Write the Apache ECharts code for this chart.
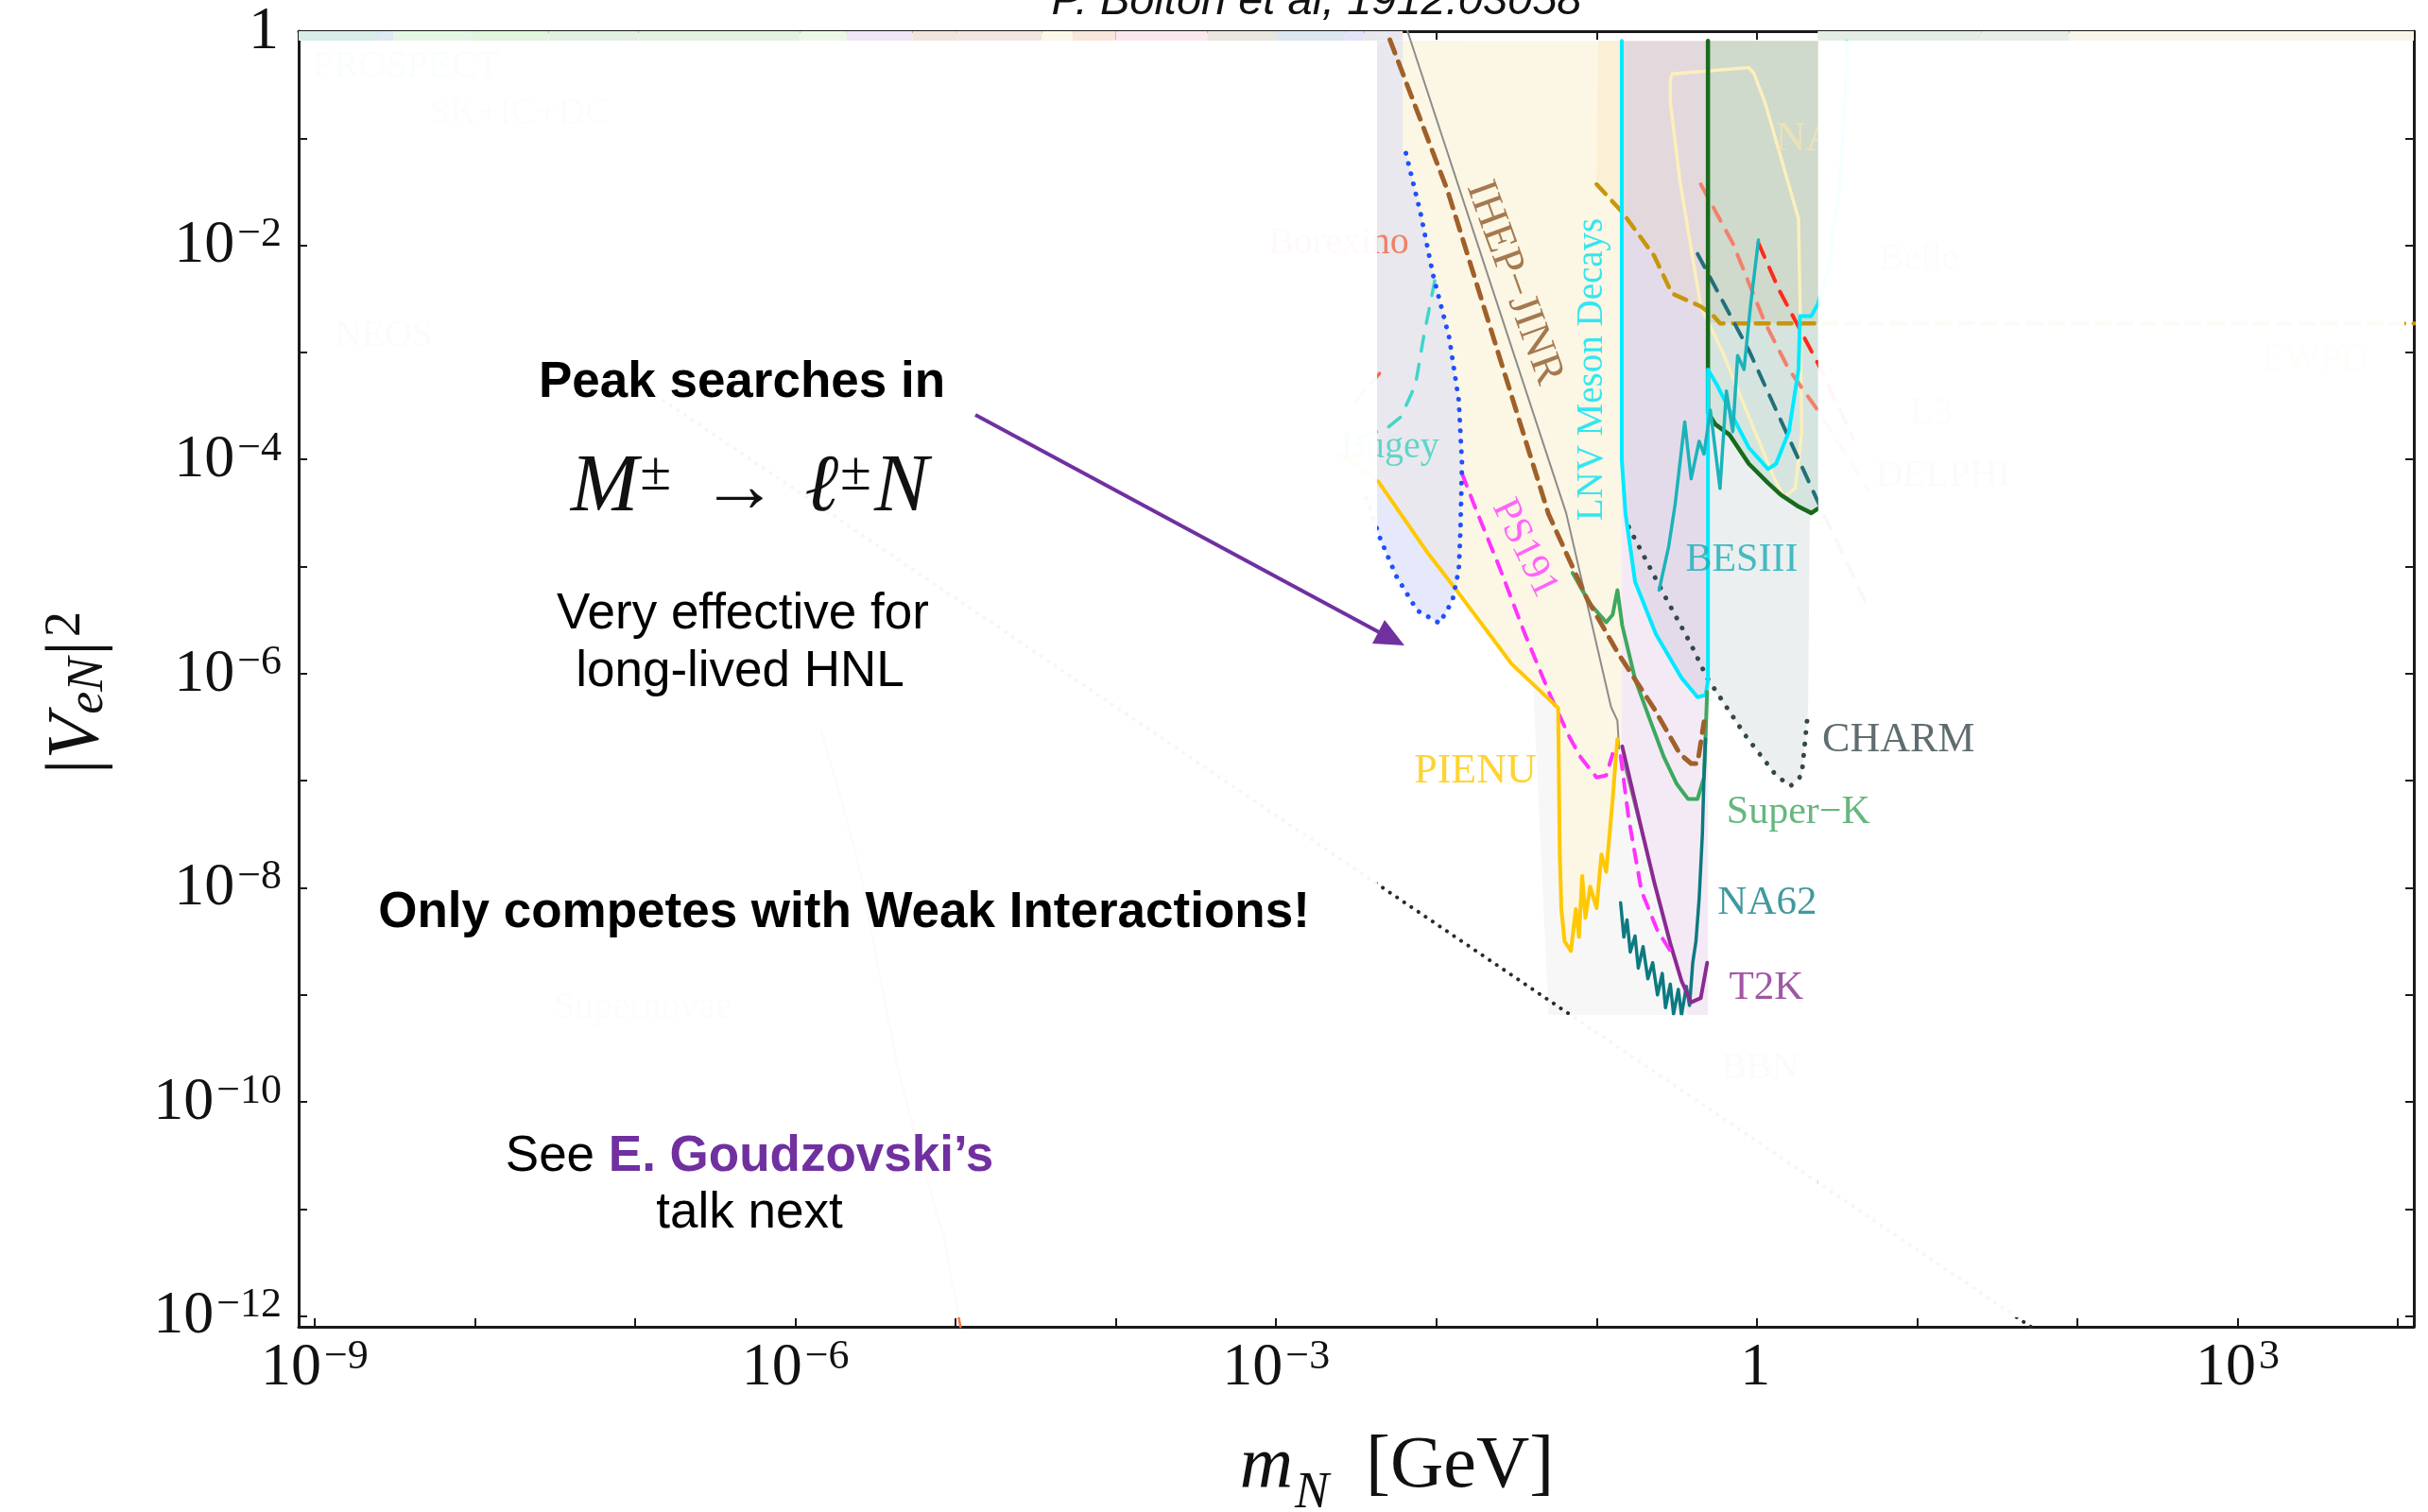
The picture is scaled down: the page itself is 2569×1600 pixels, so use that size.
<!DOCTYPE html>
<html><head><meta charset="utf-8">
<script src="https://cdn.jsdelivr.net/npm/echarts@6/dist/echarts.min.js"></script>
<style>html,body{margin:0;padding:0;background:#fff}#c{width:2569px;height:1600px}</style>
</head><body><div id="c"></div>
<script>
// All points: [log10(m_N / GeV), log10(|V_eN|^2)] on log-decade value axes
const xTickExps = [-9,-8,-7,-6,-5,-4,-3,-2,-1,0,1,2,3,4];
const xLabelExps = [-9,-6,-3,0,3];
const yTickExps = [-12,-11,-10,-9,-8,-7,-6,-5,-4,-3,-2,-1,0];
const yLabelExps = [-12,-10,-8,-6,-4,-2,0];

// curves
const ihepDash = [[-2.29,-0.08],[-1.93,-1.49],[-1.30,-4.51],[-1.06,-5.30],[-0.87,-5.80],[-0.64,-6.33],[-0.48,-6.75],[-0.41,-6.84],[-0.37,-6.84],[-0.33,-6.45]];
const ihepLine = [[-2.18,0],[-1.19,-4.50],[-0.91,-6.31],[-0.87,-6.44],[-0.86,-6.70]];
const ihepLine2 = [[-0.84,-6.79],[-0.53,-8.59]];
const blueDotted = [[-2.19,-1.14],[-2.10,-1.69],[-2.02,-2.28],[-1.92,-2.86],[-1.86,-3.45],[-1.84,-4.04],[-1.85,-4.68],[-1.86,-5.03],[-1.90,-5.32],[-1.98,-5.53],[-2.12,-5.41],[-2.25,-5.09],[-2.35,-4.74],[-2.45,-4.30]];
const bugey = [[-2.01,-2.33],[-2.08,-2.86],[-2.13,-3.30],[-2.22,-3.60],[-2.31,-3.71],[-2.45,-3.78]];
const borexino = [[-2.50,-3.45],[-2.34,-3.17]];
const pienu = [[-2.60,-3.95],[-2.36,-4.21],[-2.06,-4.86],[-1.88,-5.21],[-1.53,-5.91],[-1.24,-6.32],[-1.23,-7.67],[-1.22,-8.20],[-1.20,-8.50],[-1.16,-8.59],[-1.13,-8.20],[-1.11,-8.46],[-1.09,-7.89],[-1.07,-8.28],[-1.04,-7.99],[-1.00,-8.19],[-0.97,-7.69],[-0.94,-7.85],[-0.90,-7.18],[-0.88,-6.79],[-0.87,-6.61]];
const ps191 = [[-1.84,-4.13],[-1.76,-4.44],[-1.60,-5.03],[-1.45,-5.62],[-1.29,-6.20],[-1.17,-6.59],[-1.10,-6.78],[-1.00,-6.97],[-0.94,-6.95],[-0.90,-6.75]];
const ps191b = [[-0.85,-6.77],[-0.80,-7.35],[-0.72,-8.03],[-0.62,-8.40],[-0.51,-8.66]];
const t2k = [[-0.84,-6.68],[-0.72,-7.45],[-0.64,-7.95],[-0.54,-8.52],[-0.47,-8.87],[-0.41,-9.07],[-0.35,-9.03],[-0.31,-8.70]];
const na62 = [[-0.85,-8.14],[-0.83,-8.46],[-0.81,-8.30],[-0.79,-8.60],[-0.76,-8.45],[-0.74,-8.75],[-0.71,-8.55],[-0.68,-8.85],[-0.65,-8.70],[-0.62,-9.00],[-0.59,-8.80],[-0.57,-9.12],[-0.54,-8.90],[-0.52,-9.18],[-0.49,-8.95],[-0.47,-9.19],[-0.44,-8.92],[-0.42,-9.10],[-0.40,-8.70],[-0.38,-8.50],[-0.36,-8.10],[-0.34,-7.50],[-0.33,-6.97],[-0.32,-6.61]];
const superK = [[-1.15,-5.06],[-1.04,-5.35],[-0.94,-5.52],[-0.90,-5.45],[-0.87,-5.22],[-0.84,-5.55],[-0.76,-6.05],[-0.67,-6.42],[-0.58,-6.78],[-0.50,-7.03],[-0.43,-7.17],[-0.37,-7.17],[-0.33,-6.97],[-0.31,-6.17]];
const lnv = [[-0.843,-0.09],[-0.843,-4.00],[-0.82,-4.50],[-0.76,-5.14],[-0.63,-5.63],[-0.47,-6.04],[-0.37,-6.22],[-0.32,-6.20],[-0.305,-6.07],[-0.305,-3.16],[-0.25,-3.30],[-0.15,-3.60],[-0.05,-3.89],[0.07,-4.09],[0.12,-4.04],[0.20,-3.74],[0.26,-3.16],[0.27,-2.66],[0.34,-2.66],[0.38,-2.55],[0.45,-2.20],[0.52,-1.40],[0.55,-0.60],[0.56,-0.10]];
const darkGreen = [[-0.305,-0.09],[-0.305,-3.56],[-0.26,-3.67],[-0.17,-3.77],[-0.05,-4.04],[0.07,-4.22],[0.15,-4.33],[0.26,-4.44],[0.34,-4.50],[0.38,-4.46]];
const besiii = [[-0.61,-5.22],[-0.55,-4.81],[-0.51,-4.42],[-0.45,-3.65],[-0.41,-4.18],[-0.36,-3.83],[-0.33,-3.95],[-0.29,-3.54],[-0.23,-4.27],[-0.19,-3.36],[-0.15,-3.74],[-0.12,-3.03],[-0.08,-3.16],[-0.04,-2.57],[0.01,-1.95]];
const charm = [[-0.80,-4.63],[-0.58,-5.26],[-0.41,-5.73],[-0.31,-6.04],[-0.07,-6.58],[0.12,-6.95],[0.21,-7.05],[0.28,-6.95],[0.32,-6.34]];
const na3 = [[-0.53,-0.40],[-0.05,-0.34],[-0.02,-0.39],[0.05,-0.66],[0.26,-1.75],[0.27,-2.57],[0.28,-3.74],[0.24,-4.27],[0.17,-4.35],[0.11,-4.18],[-0.05,-3.60],[-0.21,-3.01],[-0.35,-2.57],[-0.48,-1.40],[-0.54,-0.66],[-0.54,-0.46],[-0.53,-0.40]];
const tealDash = [[-0.37,-2.08],[-0.05,-2.98],[0.38,-4.39],[0.70,-5.40]];
const salmonDash = [[-0.35,-1.43],[-0.15,-1.98],[0.05,-2.72],[0.20,-3.16],[0.38,-3.54],[0.70,-4.30]];
const redDash = [[0.01,-1.98],[0.14,-2.42],[0.38,-3.10],[0.60,-3.80]];
const goldDash = [[-1.00,-1.43],[-0.84,-1.69],[-0.64,-2.10],[-0.53,-2.45],[-0.35,-2.57],[-0.27,-2.66],[-0.23,-2.73],[4.10,-2.73]];
const seesaw = [[-7.00,-3.27],[1.71,-12.10]];
const katrin = [[-5.84,-6.53],[-5.70,-7.25],[-5.60,-7.82],[-5.51,-8.54],[-5.36,-9.69],[-5.21,-10.56],[-5.07,-11.28],[-4.97,-12.10]];

// shaded regions
const regFaint = [[-1.40,-6.00],[-0.87,-6.00],[-0.84,-6.79],[-0.40,-9.19],[-1.30,-9.19]];
const regLeftGrey = [[-2.37,-0.09],[-1.84,-0.09],[-1.84,-5.00],[-1.88,-5.21],[-2.06,-4.86],[-2.37,-4.21]];
const regCream = [[-2.21,-0.09],[-2.21,-1.13],[-2.19,-1.14],[-2.10,-1.69],[-2.02,-2.28],[-1.92,-2.86],[-1.86,-3.45],[-1.84,-4.04],[-1.85,-4.68],[-1.86,-5.03],[-1.875,-5.16],[-1.53,-5.91],[-1.24,-6.32],[-1.23,-7.67],[-1.22,-8.20],[-1.20,-8.50],[-1.16,-8.59],[-1.13,-8.20],[-1.11,-8.46],[-1.09,-7.89],[-1.07,-8.28],[-1.04,-7.99],[-1.00,-8.19],[-0.97,-7.69],[-0.94,-7.85],[-0.90,-7.18],[-0.88,-6.79],[-0.87,-6.61],[-0.843,-6.70],[-0.843,-0.09]];
const regLightBlue = [[-2.37,-4.21],[-2.06,-4.86],[-1.875,-5.16],[-1.90,-5.32],[-1.98,-5.53],[-2.12,-5.41],[-2.25,-5.09],[-2.35,-4.74],[-2.37,-4.66]];
const regCreamStrip = [[-0.99,-0.09],[-0.843,-0.09],[-0.843,-1.69],[-1.00,-1.43]];
const regMauve = [[-0.843,-0.09],[-0.305,-0.09],[-0.305,-2.62],[-0.35,-2.57],[-0.53,-2.45],[-0.64,-2.10],[-0.843,-1.69]];
const regLavender = [[-0.843,-1.69],[-0.64,-2.10],[-0.53,-2.45],[-0.35,-2.57],[-0.305,-2.62],[-0.305,-6.07],[-0.32,-6.20],[-0.37,-6.22],[-0.47,-6.04],[-0.63,-5.63],[-0.76,-5.14],[-0.82,-4.50],[-0.843,-4.00]];
const regPink = [[-0.843,-4.00],[-0.82,-4.50],[-0.76,-5.14],[-0.63,-5.63],[-0.47,-6.04],[-0.37,-6.22],[-0.32,-6.20],[-0.305,-6.07],[-0.305,-9.19],[-0.43,-9.19],[-0.53,-8.59],[-0.843,-6.79]];
const regGreenGrey = [[-0.305,-0.09],[0.383,-0.09],[0.383,-2.73],[-0.305,-2.73]];
const regTealLight = [[-0.305,-2.73],[0.383,-2.73],[0.383,-4.46],[0.34,-4.50],[0.26,-4.44],[0.15,-4.33],[0.07,-4.22],[-0.05,-4.04],[-0.17,-3.77],[-0.26,-3.67],[-0.305,-3.56]];
const regCharm = [[-0.305,-3.56],[-0.26,-3.67],[-0.17,-3.77],[-0.05,-4.04],[0.07,-4.22],[0.15,-4.33],[0.26,-4.44],[0.34,-4.50],[0.33,-4.60],[0.32,-6.34],[0.28,-6.95],[0.21,-7.05],[0.12,-6.95],[-0.07,-6.58],[-0.305,-6.07]];

// colour strip of the full plot visible along the top frame (edges in log10 GeV)
const bandEdges = [-9.1,-8.61,-8.51,-8.02,-7.54,-6.98,-5.97,-5.68,-5.27,-4.99,-4.46,-4.27,-4.00,-3.43,-2.99,-2.57,-2.45,-2.21];
const bandColors = ['#d8ede8','#dde9f4','#e4f7e6','#e1f4dd','#e3f0e1','#e2f2df','#ebf8e8','#f1e6f5','#f0e4dc','#f3e6e1','#fbf8e8','#f8e6da','#fbe8ee','#e9e6e0','#dce6f1','#e3e4fa','#e8e7ee'];
const bandEdgesR = [0.38,1.40,1.95,4.1];
const bandColorsR = ['#e4ece4','#e8eee6','#f8f5ea'];

// labels
const innerLabelText = ['IHEP\u2212JINR','LNV Meson Decays','PS191','BESIII','PIENU','Bugey','Borexino','NA3'];
const innerLabelPos = [[-1.515,-2.35],[-1.026,-3.16],[-1.45,-4.83],[-0.094,-4.94],[-1.757,-6.91],[-2.29,-3.89],[-2.61,-1.98],[0.37,-1.01]];
const outerLabelText = ['CHARM','Super\u2212K','NA62','T2K'];
const outerLabelPos = [[0.884,-6.62],[0.259,-7.30],[0.065,-8.14],[0.059,-8.94]];
const bgLabelText = ['PROSPECT','SK+IC+DC','NEOS','Supernovae','BBN','Belle','EWPD','L3','DELPHI'];
const bgLabelPos = [[-8.43,-0.33],[-7.72,-0.77],[-8.57,-2.85],[-6.95,-9.12],[0.02,-9.69],[1.01,-2.13],[3.48,-3.07],[1.09,-3.57],[1.16,-4.15]];

const windowX = [-2.37, 0.383], windowY = [-9.19, -0.088];

const SERIF = '"Liberation Serif", "DejaVu Serif", serif';
const SANS = '"Liberation Sans", Arial, sans-serif';

function powLabel(v){
  if (v === 0) return '{b|1}{s|\u200b}';
  return '{b|10}{s|' + (v < 0 ? '\u2212' : '') + Math.abs(v) + '}';
}
const tickRich = {
  b: {fontFamily: SERIF, fontSize: 64, color: '#111', lineHeight: 66, verticalAlign: 'bottom'},
  s: {fontFamily: SERIF, fontSize: 44, color: '#111', lineHeight: 46, verticalAlign: 'top', padding: [0,0,32,3]}
};

function lineSeries(data, color, width, dash, z){
  return {type: 'line', data: data, symbol: 'none', showSymbol: false, silent: true, z: z || 3,
    lineStyle: {color: color, width: width, type: dash || 'solid', cap: 'round', join: 'round'},
    emphasis: {disabled: true}, animation: false};
}
function polySeries(pts, color, z){
  return {type: 'custom', coordinateSystem: 'cartesian2d', silent: true, z: z || 1, animation: false,
    data: [pts[0]],
    renderItem: function(params, api){
      return {type: 'polygon', shape: {points: pts.map(function(p){ return api.coord(p); })}, style: {fill: color}};
    }};
}
function bandSeries(edges, colors){
  return {type: 'custom', coordinateSystem: 'cartesian2d', silent: true, z: 1, animation: false,
    data: colors.map(function(c, i){ return [(edges[i] + edges[i+1]) / 2, -0.05]; }),
    renderItem: function(params, api){
      const i = params.dataIndex;
      const a = api.coord([edges[i], 0]), b = api.coord([edges[i+1], windowY[1]]);
      return {type: 'rect', shape: {x: a[0], y: a[1], width: b[0]-a[0], height: b[1]-a[1]}, style: {fill: colors[i]}};
    }};
}
// white veil over the whole plot except the highlighted window
const maskFill = 'rgba(255,255,255,0.96)';
const maskSeries = {type: 'custom', coordinateSystem: 'cartesian2d', silent: true, z: 50, animation: false,
  data: [[windowX[0], windowY[0]]],
  renderItem: function(params, api){
    const tl = api.coord([-9.1, 0]), br = api.coord([4.1, -12.1]);
    const wtl = api.coord([windowX[0], windowY[1]]), wbr = api.coord([windowX[1], windowY[0]]);
    const L = tl[0] + 10, T = tl[1] + 10, R = br[0] - 10, B = br[1] - 10;
    return {type: 'group', children: [
      {type: 'rect', shape: {x: L, y: T, width: wtl[0] - L, height: B - T}, style: {fill: maskFill}},
      {type: 'rect', shape: {x: wbr[0], y: T, width: R - wbr[0], height: B - T}, style: {fill: maskFill}},
      {type: 'rect', shape: {x: wtl[0], y: wbr[1], width: wbr[0] - wtl[0], height: B - wbr[1]}, style: {fill: maskFill}}
    ]};
  }};
function labelSeries(texts, pos, styles, z){
  return {type: 'scatter', silent: true, z: z, symbolSize: 1, itemStyle: {color: 'rgba(0,0,0,0)'}, animation: false,
    data: texts.map(function(t, i){
      const st = styles[i];
      return {value: pos[i], label: {show: true, position: 'inside', formatter: t, color: st.c, fontSize: st.s,
        fontFamily: SERIF, rotate: st.r || 0}};
    })};
}

const innerStyles = [{c:'#8f5a2a',s:46,r:-70},{c:'#00e2f2',s:39,r:90},{c:'#ff40ff',s:42,r:-64},{c:'#19acb5',s:42},{c:'#ffc800',s:44},{c:'#3fd0c0',s:40},{c:'#f2673f',s:40},{c:'#f1e4b0',s:44}];
const outerStyles = [{c:'#37494d',s:44},{c:'#3ea55e',s:42},{c:'#117f86',s:43},{c:'#8a2a8f',s:43}];
const bgStyles = [{c:'#3fb6ae',s:40},{c:'#88bb88',s:40},{c:'#888',s:40},{c:'#8899cc',s:40},{c:'#888',s:40},{c:'#66aa66',s:40},{c:'#bbaa66',s:40},{c:'#e07070',s:40},{c:'#7080c0',s:40}];

const axisLineStyle = {show: true, onZero: false, lineStyle: {color: '#1a1a1a', width: 3}};
function tickOpt(vals){ return {show: true, inside: true, length: 9, customValues: vals, lineStyle: {color: '#1a1a1a', width: 2}}; }

const option = {
  animation: false,
  backgroundColor: '#ffffff',
  grid: {left: 316, right: 15, top: 28, bottom: 196, containLabel: false},
  xAxis: [
    {type: 'value', position: 'bottom', min: -9.1, max: 4.1, splitLine: {show: false}, axisLine: axisLineStyle,
      axisTick: tickOpt(xTickExps), axisLabel: {show: true, customValues: xLabelExps, formatter: powLabel, rich: tickRich, margin: 10}},
    {type: 'value', position: 'top', min: -9.1, max: 4.1, splitLine: {show: false}, axisLine: axisLineStyle,
      axisTick: tickOpt(xTickExps), axisLabel: {show: false}}
  ],
  yAxis: [
    {type: 'value', position: 'left', min: -12.1, max: 0, splitLine: {show: false}, axisLine: axisLineStyle,
      axisTick: tickOpt(yTickExps), axisLabel: {show: true, customValues: yLabelExps, formatter: powLabel, rich: tickRich, margin: 18}},
    {type: 'value', position: 'right', min: -12.1, max: 0, splitLine: {show: false}, axisLine: axisLineStyle,
      axisTick: tickOpt(yTickExps), axisLabel: {show: false}}
  ],
  series: [
    bandSeries(bandEdges, bandColors),
    bandSeries(bandEdgesR, bandColorsR),
    polySeries(regFaint, '#f7f7f8'),
    polySeries(regLeftGrey, '#e9e8ef'),
    polySeries(regCream, '#fcf6e4'),
    polySeries(regLightBlue, '#e5e9fb'),
    polySeries(regCreamStrip, '#fbf0d6'),
    polySeries(regMauve, '#e3d9dc'),
    polySeries(regLavender, '#e4dbea'),
    polySeries(regPink, '#f4eaf5'),
    polySeries(regGreenGrey, '#cfd9cc'),
    polySeries(regTealLight, '#d5e4df'),
    polySeries(regCharm, '#eceff0'),
    lineSeries(katrin, '#ff7043', 2.5),
    lineSeries(seesaw, '#2a2a2a', 4, [0.1, 9]),
    lineSeries(ihepLine, '#8c8c8c', 2),
    lineSeries(ihepLine2, '#9a9a9a', 2),
    lineSeries(na3, '#fbefbd', 3.5),
    lineSeries(goldDash, '#c8960c', 4.5, [14, 10]),
    lineSeries(salmonDash, '#f4806c', 4, [16, 12]),
    lineSeries(redDash, '#ff2a1a', 4, [16, 12]),
    lineSeries(tealDash, '#21707c', 4, [16, 12]),
    lineSeries(charm, '#34474b', 5, [0.1, 12]),
    lineSeries(darkGreen, '#186a1c', 4.5),
    lineSeries(lnv, '#00eaff', 4),
    lineSeries(besiii, '#1bb3bb', 3.5),
    lineSeries(superK, '#3da85f', 4),
    lineSeries(na62, '#0c7a80', 3.5),
    lineSeries(t2k, '#8a2b91', 4),
    lineSeries(ps191, '#ff33ff', 4, [14, 11]),
    lineSeries(ps191b, '#ff33ff', 4, [14, 11]),
    lineSeries(pienu, '#ffc800', 4),
    lineSeries(bugey, '#3fd6c8', 3.5, [16, 14]),
    lineSeries(borexino, '#f26b4a', 3.5, [14, 10]),
    lineSeries(blueDotted, '#1f4fff', 5, [0.1, 11]),
    lineSeries(ihepDash, '#a0602a', 5, [15, 10]),
    labelSeries(bgLabelText, bgLabelPos, bgStyles, 3),
    labelSeries(innerLabelText, innerLabelPos, innerStyles, 4),
    maskSeries,
    labelSeries(outerLabelText, outerLabelPos, outerStyles, 200)
  ]
};

const chart = echarts.init(document.getElementById('c'), null, {renderer: 'canvas', width: 2569, height: 1600});
chart.setOption(option);

const elements = [
  // title
  {type: 'text', zlevel: 1, z: 300, x: 1393, y: 2, style: {text: 'P. Bolton et al, 1912.03058', font: 'italic 47px ' + SANS, fill: '#111', align: 'center', verticalAlign: 'middle'}},
  // axis names
  {type: 'text', zlevel: 1, z: 300, x: 1478, y: 1553, style: {text: '{i|m}{sub|N}{n|  [GeV]}', align: 'center', verticalAlign: 'middle',
    rich: {i: {fontFamily: SERIF, fontStyle: 'italic', fontSize: 78, lineHeight: 78, verticalAlign: 'top', fill: '#111'},
           sub: {fontFamily: SERIF, fontStyle: 'italic', fontSize: 54, lineHeight: 54, verticalAlign: 'top', padding: [40,0,0,2], fill: '#111'},
           n: {fontFamily: SERIF, fontSize: 78, lineHeight: 78, verticalAlign: 'top', fill: '#111'}}}},
  {type: 'text', zlevel: 1, z: 300, x: 82, y: 733, rotation: Math.PI / 2, style: {text: '{n||}{i|V}{sub|eN}{n||}{sup|2}', align: 'center', verticalAlign: 'middle',
    rich: {i: {fontFamily: SERIF, fontStyle: 'italic', fontSize: 78, lineHeight: 78, verticalAlign: 'bottom', fill: '#111'},
           n: {fontFamily: SERIF, fontSize: 78, lineHeight: 78, verticalAlign: 'bottom', fill: '#111'},
           sub: {fontFamily: SERIF, fontStyle: 'italic', fontSize: 54, lineHeight: 54, verticalAlign: 'bottom', padding: [0,2,0,0], fill: '#111'},
           sup: {fontFamily: SERIF, fontSize: 54, lineHeight: 54, verticalAlign: 'top', padding: [0,0,40,4], fill: '#111'}}}},
  // slide annotations
  {type: 'text', zlevel: 1, z: 300, x: 785, y: 405, style: {text: 'Peak searches in', font: 'bold 53px ' + SANS, fill: '#000', align: 'center', verticalAlign: 'middle'}},
  {type: 'text', zlevel: 1, z: 300, x: 793, y: 516, style: {text: '{fi|M}{fs|\u00b1}{fa|\u2192}{fi|\u2113}{fs|\u00b1}{fi|N}', align: 'center', verticalAlign: 'middle',
    rich: {fi: {fontFamily: SERIF, fontStyle: 'italic', fontSize: 86, lineHeight: 88, verticalAlign: 'bottom', fill: '#111'},
           fs: {fontFamily: SERIF, fontSize: 60, lineHeight: 60, verticalAlign: 'top', padding: [0,3,58,2], fill: '#111'},
           fa: {fontFamily: SERIF, fontSize: 82, lineHeight: 88, verticalAlign: 'bottom', padding: [0,28,0,28], fill: '#111'}}}},
  {type: 'text', zlevel: 1, z: 300, x: 786, y: 650, style: {text: 'Very effective for', font: '53px ' + SANS, fill: '#000', align: 'center', verticalAlign: 'middle'}},
  {type: 'text', zlevel: 1, z: 300, x: 783, y: 711, style: {text: 'long-lived HNL', font: '53px ' + SANS, fill: '#000', align: 'center', verticalAlign: 'middle'}},
  {type: 'text', zlevel: 1, z: 300, x: 893, y: 966, style: {text: 'Only competes with Weak Interactions!', font: 'bold 53px ' + SANS, fill: '#000', align: 'center', verticalAlign: 'middle'}},
  {type: 'text', zlevel: 1, z: 300, x: 793, y: 1224, style: {text: '{a|See }{b|E. Goudzovski\u2019s}', align: 'center', verticalAlign: 'middle',
    rich: {a: {fontFamily: SANS, fontSize: 53, fill: '#000'}, b: {fontFamily: SANS, fontSize: 53, fontWeight: 'bold', fill: '#7030a0'}}}},
  {type: 'text', zlevel: 1, z: 300, x: 793, y: 1284, style: {text: 'talk next', font: '53px ' + SANS, fill: '#000', align: 'center', verticalAlign: 'middle'}},
  {type: 'line', zlevel: 1, z: 300, silent: true, shape: {x1: 1032, y1: 439, x2: 1461, y2: 670}, style: {stroke: '#7030a0', lineWidth: 4}},
  {type: 'polygon', zlevel: 1, z: 300, silent: true, shape: {points: [[1486, 683], [1452, 681], [1465, 656]]}, style: {fill: '#7030a0'}}
];
chart.setOption({graphic: {elements: elements}});
</script>
</body></html>
